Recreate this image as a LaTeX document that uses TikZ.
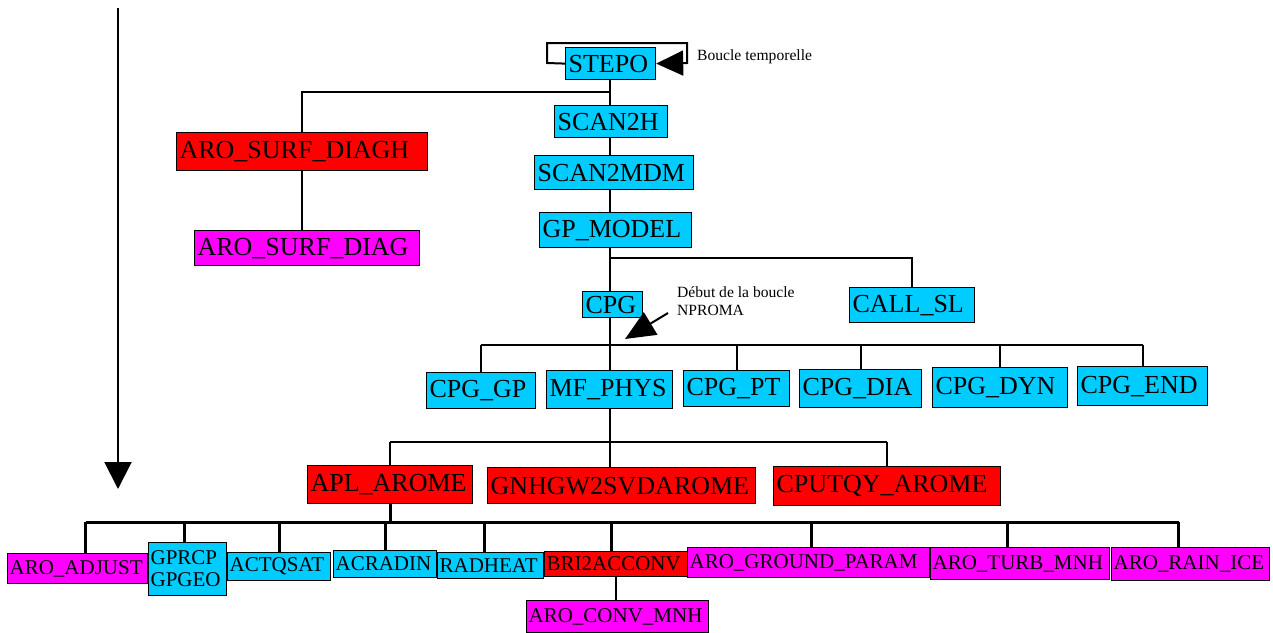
\documentclass[tikz,border=0pt]{standalone}
\usepackage{fontspec}
\setmainfont{Liberation Serif}
\usetikzlibrary{arrows.meta, calc}
\definecolor{dyncyan}{RGB}{0,204,255}
\definecolor{arored}{RGB}{255,0,0}
\definecolor{mnhmag}{RGB}{255,0,255}
\tikzset{
  routine/.style={draw=black, line width=1.2pt, anchor=north west, align=left, inner xsep=3pt, inner ysep=1pt, font=\fontsize{26}{28}\selectfont},
  lowrow/.style={font=\fontsize{21}{22}\selectfont, inner xsep=2pt},
  dyn/.style={routine, fill=dyncyan},
  arome/.style={routine, fill=arored},
  mnh/.style={routine, fill=mnhmag},
  wire/.style={line width=2pt},
  bus/.style={line width=3pt},
  remark/.style={font=\fontsize{15.6}{18}\selectfont, inner sep=0pt, align=left},
  bigarrow/.style={line width=2pt, -{Triangle[length=27pt, width=27pt]}},
}

\begin{document}
\begin{tikzpicture}[x=1pt, y=-1pt]
        \useasboundingbox (0,0) rectangle (1273,632);

        % Time axis
        \coordinate (tstart) at (118,8);
        \coordinate (tend) at (118,489);
        \draw[bigarrow] (tstart) -- (tend);

        % Top of the tree
        \node[dyn, text width=84pt, minimum height=32pt] (stepo) at (565,47) {STEPO};
        \node[dyn, text width=107pt, minimum height=32pt] (scan2h) at (554,105) {SCAN2H};
        \node[dyn, text width=153pt, minimum height=34pt] (scan2mdm) at (534,155) {SCAN2MDM};
        \node[dyn, text width=146pt, minimum height=35pt] (gpmodel) at (539,212) {GP\_MODEL};
        \node[dyn, text width=54pt, minimum height=26pt] (cpg) at (582,291) {CPG};
        \node[dyn, text width=119pt, minimum height=35pt] (callsl) at (849,287) {CALL\_SL};

        % Surface diagnostics
        \node[arome, text width=245pt, minimum height=38pt] (surfh) at (176,132) {ARO\_SURF\_DIAGH};
        \node[mnh, text width=219pt, minimum height=35pt] (surf) at (194,230) {ARO\_SURF\_DIAG};

        % Under CPG
        \node[dyn, text width=103pt, minimum height=36pt] (cpggp) at (426,372) {CPG\_GP};
        \node[dyn, text width=120pt, minimum height=38pt] (mfphys) at (546,370) {MF\_PHYS};
        \node[dyn, text width=100pt, minimum height=36pt] (cpgpt) at (683,370) {CPG\_PT};
        \node[dyn, text width=116pt, minimum height=38pt] (cpgdia) at (799,369) {CPG\_DIA};
        \node[dyn, text width=129pt, minimum height=40pt] (cpgdyn) at (932,367) {CPG\_DYN};
        \node[dyn, text width=124pt, minimum height=39pt] (cpgend) at (1077,366) {CPG\_END};

        % Under MF_PHYS
        \node[arome, text width=159pt, minimum height=38pt] (apl) at (307,465) {APL\_AROME};
        \node[arome, text width=262pt, minimum height=36pt] (gnhgw) at (487,467) {GNHGW2SVDAROME};
        \node[arome, text width=221pt, minimum height=39pt] (cputqy) at (773,466) {CPUTQY\_AROME};

        % Under APL_AROME
        \node[mnh, lowrow, text width=136pt, minimum height=30pt] (aroadjust) at (7,553) {ARO\_ADJUST};
        \node[dyn, lowrow, text width=74pt, minimum height=53pt] (gprcp) at (148,542) {GPRCP\\GPGEO};
        \node[dyn, lowrow, text width=99pt, minimum height=28pt] (actqsat) at (227,552) {ACTQSAT};
        \node[dyn, lowrow, text width=99pt, minimum height=27pt] (acradin) at (333,550) {ACRADIN};
        \node[dyn, lowrow, text width=102pt, minimum height=26pt] (radheat) at (437,552) {RADHEAT};
        \node[arome, lowrow, text width=139pt, minimum height=25pt] (bri) at (544,551) {BRI2ACCONV};
        \node[mnh, lowrow, text width=238pt, minimum height=30pt] (aroground) at (687,547) {ARO\_GROUND\_PARAM};
        \node[mnh, lowrow, text width=175pt, minimum height=32pt] (aroturb) at (930,547) {ARO\_TURB\_MNH};
        \node[mnh, lowrow, text width=154pt, minimum height=33pt] (arorainice) at (1111,547) {ARO\_RAIN\_ICE};
        \node[mnh, lowrow, text width=178pt, minimum height=32pt] (aroconv) at (526,600) {ARO\_CONV\_MNH};

        % Remarks
        \node[remark, anchor=base west] (lblboucle) at (697,60) {Boucle temporelle};
        \node[remark, anchor=north west] (lblnproma) at (677,286) {Début de la boucle\\NPROMA};

        % Junctions
        \coordinate (spine) at (610,0);
        \coordinate (jstepo) at (610,92);
        \coordinate (jgp) at (610,258);
        \coordinate (jcpg) at (610,345);
        \coordinate (jmf) at (610,442);
        \coordinate (japl) at (389,522);
        \coordinate (nstart) at (668,313);
        \coordinate (ntip) at (625,339);

        % Time loop
        \draw[wire, -{Triangle[length=27pt, width=25pt]}] (stepo.west) -- (547,63) |- (687,43) -- (687,63) -- (stepo.east);

        % Main spine
        \foreach \a/\b in {stepo/scan2h, scan2h/scan2mdm, scan2mdm/gpmodel, gpmodel/cpg, cpg/mfphys, mfphys/gnhgw}
          \draw[wire] (\a.south -| spine) -- (\b.north -| spine);

        % Side branches
        \draw[wire] (jstepo) -| (surfh.north);
        \draw[wire] (surfh.south) -- (surfh.south |- surf.north);
        \draw[wire] (jgp) -| (callsl.north);

        \draw[wire] (cpggp.north |- jcpg) -- (cpgend.north |- jcpg);
        \foreach \n in {cpggp, cpgpt, cpgdia, cpgdyn, cpgend}
          \draw[wire] (\n.north |- jcpg) -- (\n.north);

        \draw[wire] (apl.north |- jmf) -- (cputqy.north |- jmf);
        \foreach \n in {apl, cputqy}
          \draw[wire] (\n.north |- jmf) -- (\n.north);

        \draw[bus] (apl.south) -- (apl.south |- japl);
        \draw[bus] ($(aroadjust.north |- japl)+(8,0)$) -- ($(arorainice.north |- japl)+(-12,0)$);
        \foreach \n/\dx in {aroadjust/8, gprcp/-3, actqsat/0, acradin/0, radheat/-6, bri/-5, aroground/3, aroturb/-13, arorainice/-12}
          \draw[bus] ($(\n.north |- japl)+(\dx,0)$) -- ($(\n.north)+(\dx,0)$);
        \draw[wire] (bri.south) -- (bri.south |- aroconv.north);

        % NPROMA loop start
        \draw[wire, -{Triangle[length=30pt, width=26pt]}] (nstart) -- (ntip);
\end{tikzpicture}
\end{document}
